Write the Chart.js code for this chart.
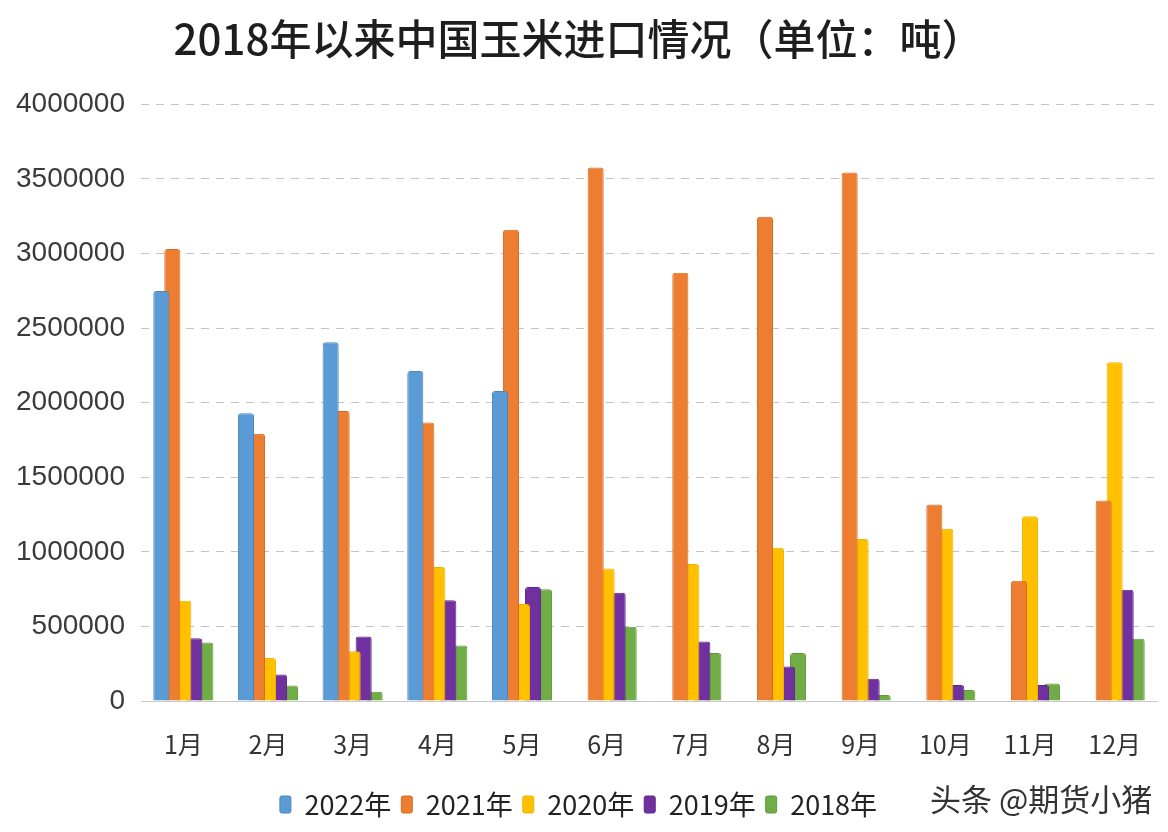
<!DOCTYPE html>
<html>
<head>
<meta charset="utf-8">
<script src="https://cdn.jsdelivr.net/npm/chart.js@4.4.1/dist/chart.umd.min.js"></script>
<style>
  html, body { margin: 0; padding: 0; background: #fff; }
  #wrap { position: relative; width: 1168px; height: 832px; }
  #mark {
    position: absolute; left: 930px; top: 775px;
    font-family: "Noto Sans CJK SC", sans-serif; font-size: 31px; color: #333;
    white-space: nowrap;
  }
</style>
</head>
<body>
<div id="wrap">
  <canvas id="cornChart" width="1168" height="832"></canvas>
  <div id="mark">头条 @期货小猪</div>
</div>
<script>
const months = ["1月", "2月", "3月", "4月", "5月", "6月", "7月", "8月", "9月", "10月", "11月", "12月"];
const seriesNames = ["2022年", "2021年", "2020年", "2019年", "2018年"];

const y2022 = [2749000, 1929000, 2406000, 2213000, 2078000, null, null, null, null, null, null, null];
const y2021 = [3031000, 1792000, 1945000, 1867000, 3160000, 3577000, 2871000, 3246000, 3543000, 1317000, 806000, 1345000];
const y2020 = [672000, 288000, 333000, 898000, 650000, 889000, 918000, 1027000, 1086000, 1155000, 1239000, 2271000];
const y2019 = [421000, 177000, 432000, 676000, 765000, 725000, 399000, 232000, 150000, 107000, 107000, 746000];
const y2018 = [392000, 104000, 62000, 372000, 750000, 498000, 321000, 321000, 40000, 73000, 118000, 417000];

const yTicks = [0, 500000, 1000000, 1500000, 2000000, 2500000, 3000000, 3500000, 4000000];

const fills = ["#5b9bd5", "#ed7d31", "#ffc000", "#7030a0", "#70ad47"];
const edges = ["#4a86bf", "#d96b22", "#f0b400", "#5e2688", "#5f9a3a"];

const allValues = [y2022, y2021, y2020, y2019, y2018];

const datasets = allValues.map((vals, i) => ({
    label: seriesNames[i],
    data: vals,
    backgroundColor: fills[i],
    borderColor: edges[i],
    borderWidth: 1,
    borderSkipped: 'bottom',
    borderRadius: { topLeft: 3, topRight: 3 },
    categoryPercentage: 0.65,
    barPercentage: 1.46
}));

new Chart("cornChart", {
    type: "bar",
    data: { labels: months, datasets: datasets },
    options: {
        responsive: false,
        animation: false,
        layout: { padding: { left: 0, right: 11, top: 0, bottom: 4 } },
        scales: {
            y: {
                min: 0,
                max: 4000000,
                afterBuildTicks: (scale) => { scale.ticks = yTicks.map(v => ({ value: v })); },
                afterFit: (scale) => { scale.width = 141; },
                // in v4 the grid line dash is read from border.dash
                border: { display: false, dash: [8, 7] },
                grid: {
                    color: "#c4c4c4",
                    drawTicks: false
                },
                ticks: {
                    padding: 16,
                    color: "#3a3a3a",
                    font: { family: "Liberation Sans", size: 28 },
                    callback: (v) => String(v)
                }
            },
            x: {
                grid: { display: false },
                border: { display: true, color: "#c9c9c9" },
                afterFit: (scale) => { scale.height = 80; },
                ticks: {
                    padding: 20,
                    color: "#333",
                    font: { family: "Noto Sans CJK SC", size: 25 }
                }
            }
        },
        plugins: {
            title: {
                display: true,
                text: "2018年以来中国玉米进口情况（单位：吨）",
                color: "#1e1e1e",
                font: { family: "Noto Sans CJK SC", size: 42, weight: "500" },
                padding: { top: 14, bottom: 40 }
            },
            legend: {
                position: "bottom",
                labels: {
                    color: "#222",
                    font: { family: "Noto Sans CJK SC", size: 27 },
                    boxWidth: 11,
                    boxHeight: 17,
                    padding: 10,
                    useBorderRadius: true,
                    borderRadius: 2
                }
            },
            tooltip: { enabled: false }
        }
    }
});
</script>
</body>
</html>
